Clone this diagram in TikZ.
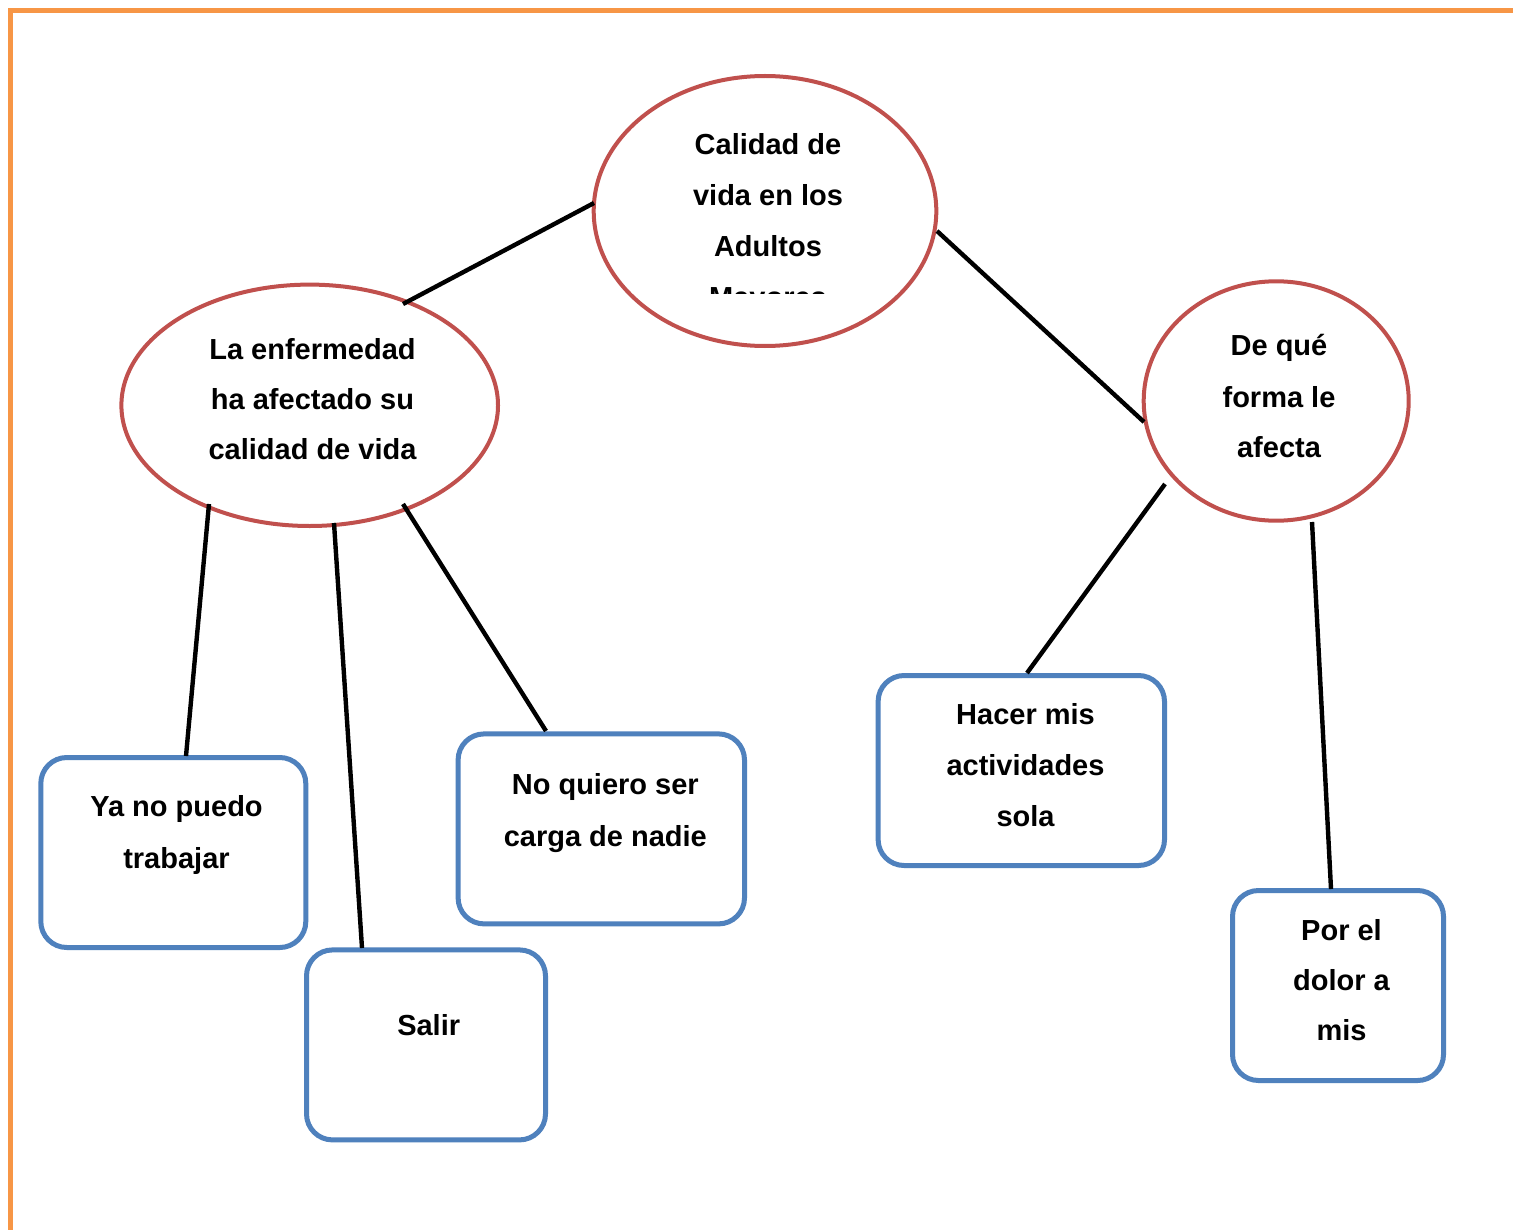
\documentclass[tikz,border=0pt]{standalone}
\usepackage{fontspec}
\setmainfont{Liberation Sans}
\usetikzlibrary{shapes.geometric,calc}
\definecolor{ellred}{HTML}{C0504D}
\definecolor{boxblue}{HTML}{4F81BD}
\definecolor{frameorange}{HTML}{F79646}
\tikzset{
  ell/.style={draw=ellred, line width=2pt, ellipse, inner sep=0pt, fill=white},
  rbox/.style={draw=boxblue, line width=2.5pt, rectangle, rounded corners=13pt, inner sep=0pt, minimum height=95pt, fill=white},
  txt/.style={font=\fontsize{14.5pt}{17pt}\selectfont\bfseries, anchor=base, inner sep=0pt},
  conn/.style={draw=black, line width=2.2pt},
  frame/.style={draw=frameorange, line width=2.6pt, line join=miter}
}
\begin{document}
\begin{tikzpicture}[x=0.5pt,y=-0.5pt]
\useasboundingbox (0,0) rectangle (1513,1230);
\fill[white] (0,0) rectangle (1513,1230);
\draw[frame] (1513,10.5) -- (10.5,10.5) -- (10.5,1230);

% shapes
\node[ell, minimum width=171.3pt, minimum height=135pt] (top) at (765,211) {};
\node[ell, minimum width=188.3pt, minimum height=120.7pt] (left) at (309.7,405.3) {};
\node[ell, minimum width=132.5pt, minimum height=119.7pt] (right) at (1276.2,401) {};

\node[rbox, minimum width=132.5pt] (b1) at (173.3,852.5) {};
\node[rbox, minimum width=119.5pt] (b2) at (426,1044.9) {};
\node[rbox, minimum width=143.2pt] (b3) at (601.3,828.9) {};
\node[rbox, minimum width=143.2pt] (b4) at (1021.3,770.5) {};
\node[rbox, minimum width=105.5pt] (b5) at (1338,985.5) {};

% connectors
\draw[conn] ($(top.center)+(-171,-8)$) -- ($(left.center)+(93.3,-101.3)$);
\draw[conn] ($(top.center)+(172,20)$) -- ($(right.center)+(-132.2,21)$);
\draw[conn] ($(left.center)+(-100.7,98.7)$) -- ($(b1.center)+(12.7,-96.5)$);
\draw[conn] ($(left.center)+(24.3,117.7)$) -- ($(b2.center)+(-64,-96.9)$);
\draw[conn] ($(left.center)+(93.3,98.7)$) -- ($(b3.center)+(-55.3,-97.9)$);
\draw[conn] ($(right.center)+(-111.2,83)$) -- ($(b4.center)+(5.7,-97.5)$);
\draw[conn] ($(right.center)+(35.8,121)$) -- ($(b5.center)+(-7,-96.5)$);

% texts
\node[txt] (ta1) at (768,154.3) {Calidad de};
\node[txt] (ta2) at (768,205.7) {vida en los};
\node[txt] (ta3) at (768,256.7) {Adultos};
\begin{scope}
\clip (620,262) rectangle (920,293.5);
\node[txt] (ta4) at (768,307.7) {Mayores};
\end{scope}

\node[txt] (tl1) at (312.5,359.3) {La enfermedad};
\node[txt] (tl2) at (312.5,409.3) {ha afectado su};
\node[txt] (tl3) at (312.5,459.5) {calidad de vida};

\node[txt] (tr1) at (1279,355.7) {De qué};
\node[txt] (tr2) at (1279,407) {forma le};
\node[txt] (tr3) at (1279,457.3) {afecta};

\node[txt] (t11) at (176.5,816.7) {Ya no puedo};
\node[txt] (t12) at (176.5,868.3) {trabajar};

\node[txt] (t21) at (428.7,1035) {Salir};

\node[txt] (t31) at (605.3,794) {No quiero ser};
\node[txt] (t32) at (605.3,846) {carga de nadie};

\node[txt] (t41) at (1025.5,724) {Hacer mis};
\node[txt] (t42) at (1025.5,775) {actividades};
\node[txt] (t43) at (1025.5,826) {sola};

\node[txt] (t51) at (1341.5,940) {Por el};
\node[txt] (t52) at (1341.5,990) {dolor a};
\node[txt] (t53) at (1341.5,1040) {mis};
\end{tikzpicture}
\end{document}
